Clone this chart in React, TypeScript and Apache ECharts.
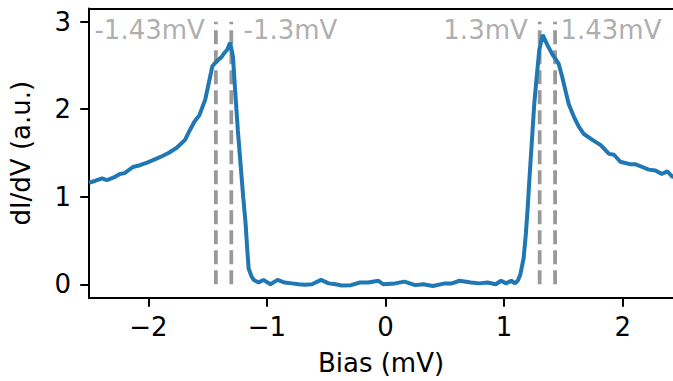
import React, { useEffect, useRef } from "react";
import * as echarts from "echarts";

const biasValues = [
  -2.5, -2.45, -2.39, -2.35, -2.29, -2.24, -2.2, -2.13, -2.07, -2.01, -1.94, -1.89, -1.83, -1.76, -1.69,
  -1.65, -1.61, -1.57, -1.52, -1.49, -1.46, -1.43, -1.38, -1.36, -1.335, -1.31, -1.286, -1.27, -1.245,
  -1.22, -1.2, -1.18, -1.168, -1.154, -1.13, -1.11, -1.07, -1.03, -0.97, -0.91, -0.85, -0.79, -0.734,
  -0.68, -0.62, -0.543, -0.48, -0.42, -0.37, -0.29, -0.216, -0.145, -0.06, -0.02, 0.08, 0.16, 0.25,
  0.317, 0.4, 0.5, 0.56, 0.625, 0.72, 0.79, 0.86, 0.93, 0.975, 1.017, 1.06, 1.092, 1.115, 1.137, 1.165,
  1.184, 1.2, 1.213, 1.235, 1.255, 1.275, 1.297, 1.325, 1.367, 1.41, 1.46, 1.49, 1.52, 1.547, 1.59,
  1.63, 1.67, 1.745, 1.815, 1.885, 1.927, 1.98, 2.067, 2.11, 2.165, 2.22, 2.277, 2.33, 2.376, 2.418, 2.45,
];
const didvValues = [
  1.16, 1.18, 1.21, 1.19, 1.22, 1.26, 1.27, 1.34, 1.36, 1.39, 1.43, 1.46, 1.5, 1.56, 1.65,
  1.76, 1.86, 1.93, 2.11, 2.3, 2.49, 2.54, 2.6, 2.64, 2.68, 2.76, 2.6, 2.26, 1.76,
  1.34, 1.0, 0.7, 0.45, 0.18, 0.09, 0.05, 0.02, 0.05, 0.0, 0.05, 0.02, 0.01, 0.0,
  -0.005, 0.0, 0.05, 0.01, 0.0, -0.015, -0.01, 0.02, 0.02, 0.04, 0.0, 0.01, 0.03, -0.01,
  0.0, -0.02, 0.01, 0.01, 0.04, 0.02, 0.01, 0.02, 0.0, 0.04, 0.01, 0.04, 0.01, 0.04, 0.11, 0.3,
  0.58, 0.89, 1.19, 1.65, 2.07, 2.37, 2.68, 2.85, 2.73, 2.62, 2.52, 2.37, 2.2, 2.05, 1.91,
  1.8, 1.72, 1.65, 1.59, 1.49, 1.48, 1.4, 1.37, 1.37, 1.34, 1.31, 1.3, 1.26, 1.29, 1.23, 1.22,
];

const markerBias = [-1.43, -1.3, 1.3, 1.43];
const markerTop = 3;
const labelTexts = ["-1.43mV", "-1.3mV", "1.3mV", "1.43mV"];
const labelBias = [-1.523, -1.197, 1.2, 1.475];
const labelAlign = ["right", "left", "right", "left"];
const labelY = 2.9;

const xTicks = [-2, -1, 0, 1, 2];
const yTicks = [0, 1, 2, 3];

const FONT = "DejaVu Sans";
const GRAY = "#999999";

export default function App() {
  const ref = useRef<HTMLDivElement>(null);
  useEffect(() => {
    if (!ref.current) return;
    const chart = echarts.init(ref.current, null, { renderer: "svg" });
    const fmt = (v: number) => (v < 0 ? "\u2212" + Math.abs(v) : String(v));
    const curve = biasValues.map((b, i) => [b, didvValues[i]]);
    const vlines = markerBias.map((b) => ({
      type: "line",
      data: [
        [b, 0],
        [b, markerTop],
      ],
      symbol: "none",
      silent: true,
      z: 1,
      lineStyle: { color: GRAY, width: 3.75, type: [14, 6] },
    }));
    chart.setOption({
      animation: false,
      grid: { left: 87, top: 8.5, right: 0, height: 289.5 },
      xAxis: [
        {
          type: "value",
          min: -2.5,
          max: 2.4244,
          axisLine: { show: true, onZero: false, lineStyle: { color: "#000", width: 2 } },
          axisTick: { show: true, customValues: xTicks, length: 8.75, lineStyle: { color: "#000", width: 2 } },
          axisLabel: {
            customValues: xTicks,
            formatter: fmt,
            color: "#000",
            fontFamily: FONT,
            fontSize: 26,
            margin: 16,
          },
          splitLine: { show: false },
          name: "Bias (mV)",
          nameLocation: "middle",
          nameGap: 52,
          nameTextStyle: { color: "#000", fontFamily: FONT, fontSize: 26 },
        },
        {
          type: "value",
          position: "top",
          min: -2.5,
          max: 2.4244,
          axisLine: { show: true, onZero: false, lineStyle: { color: "#000", width: 2 } },
          axisTick: { show: false },
          axisLabel: { show: false },
          splitLine: { show: false },
        },
      ],
      yAxis: {
        type: "value",
        min: -0.157,
        max: 3.151,
        axisLine: { show: true, onZero: false, lineStyle: { color: "#000", width: 2 } },
        axisTick: { show: true, customValues: yTicks, length: 8.75, lineStyle: { color: "#000", width: 2 } },
        axisLabel: {
          customValues: yTicks,
          formatter: fmt,
          color: "#000",
          fontFamily: FONT,
          fontSize: 26,
          margin: 18,
        },
        splitLine: { show: false },
        name: "dI/dV (a.u.)",
        nameLocation: "middle",
        nameGap: 55,
        nameTextStyle: { color: "#000", fontFamily: FONT, fontSize: 26 },
      },
      series: [
        ...vlines,
        {
          type: "line",
          data: curve,
          symbol: "none",
          z: 3,
          lineStyle: { color: "#1f77b4", width: 4 },
        },
        {
          type: "scatter",
          symbolSize: 0,
          silent: true,
          z: 4,
          data: labelTexts.map((t, i) => ({
            value: [labelBias[i], labelY],
            label: {
              show: true,
              formatter: t,
              position: [0, 0],
              align: labelAlign[i],
              verticalAlign: "middle",
              color: GRAY,
              fontFamily: FONT,
              fontSize: 26,
            },
          })),
        },
      ],
    });
    return () => chart.dispose();
  }, []);
  return <div ref={ref} style={{ width: 673, height: 381, position: "absolute", left: 0, top: 0 }} />;
}
